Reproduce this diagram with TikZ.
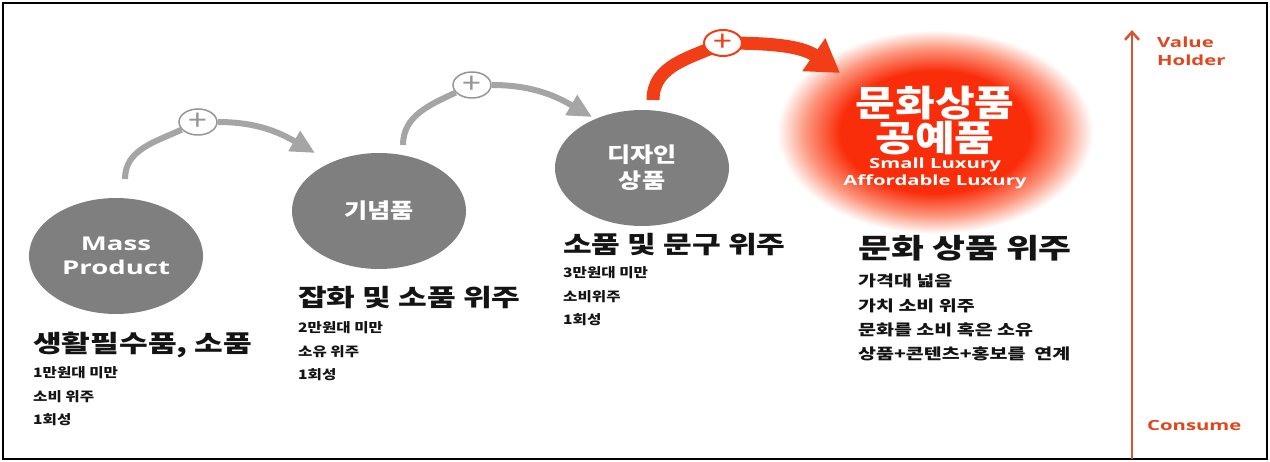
\documentclass[tikz,border=0pt]{standalone}
\usepackage{fontspec}
\setmainfont[FakeStretch=1.2]{Noto Sans CJK KR}
\newfontfamily\headfont[FakeStretch=1.3]{Noto Sans CJK KR}
\newfontfamily\latinfont[FakeStretch=1.45]{Open Sans}
\usetikzlibrary{arrows.meta,shapes.geometric}

\definecolor{stagegrey}{RGB}{127,127,127}
\definecolor{arrowgrey}{RGB}{165,165,165}
\definecolor{plusgrey}{RGB}{150,150,150}
\definecolor{growred}{RGB}{242,62,22}
\definecolor{glowred}{RGB}{250,45,10}
\definecolor{glowpink}{RGB}{252,150,125}
\definecolor{axisred}{RGB}{214,84,48}
\definecolor{labelred}{RGB}{224,70,28}
\definecolor{textdark}{RGB}{20,20,20}

\pgfdeclareradialshading{culturglow}{\pgfpoint{0bp}{0bp}}{color(0bp)=(glowred); color(15bp)=(glowred); color(20.5bp)=(glowpink); color(25bp)=(white); color(50bp)=(white)}

\tikzset{
  stage/.style={ellipse,fill=stagegrey,minimum width=174pt,minimum height=116pt,inner sep=0pt,text=white,align=center},
  plusmark/.style={ellipse,draw=#1,fill=white,line width=1.5pt,minimum width=38pt,minimum height=26pt,inner sep=0pt,text=#1,font=\fontsize{28}{28}\selectfont},
  growline/.style={line width=6pt,draw=arrowgrey},
  growarrow/.style={growline,-{Triangle[length=24pt,width=22pt]}},
  redline/.style={line width=13pt,draw=growred},
  redarrow/.style={redline,-{Triangle[length=32pt,width=38pt]}},
  heading/.style={anchor=west,inner sep=0pt,text=textdark,font=\headfont\bfseries\fontsize{24}{24}\selectfont},
  detail/.style={anchor=west,inner sep=0pt,text=textdark,font=\bfseries\fontsize{13}{13}\selectfont},
  widedetail/.style={detail,font=\headfont\bfseries\fontsize{15}{15}\selectfont},
  axislabel/.style={anchor=west,inner sep=0pt,align=left,text=labelred,font=\latinfont\bfseries\fontsize{14}{18}\selectfont}
}

\begin{document}
\begin{tikzpicture}[x=1pt,y=1pt]
\useasboundingbox (0,0) rectangle (1270,461);
\draw[line width=1.2pt] (3,2) rectangle (1267,458);

% stages
\node[stage,font=\latinfont\bfseries\fontsize{19}{24}\selectfont] (mass) at (116,205) {Mass\\Product};
\node[stage,font=\bfseries\fontsize{21}{21}\selectfont] (souvenir) at (379,250) {기념품};
\node[stage,font=\bfseries\fontsize{21}{26}\selectfont] (design) at (642,293) {디자인\\상품};
\node[ellipse,shade,shading=culturglow,minimum width=316pt,minimum height=204pt] (culture) at (935,329) {};
\node[text=white,font=\bfseries\fontsize{36}{36}\selectfont] (c1) at (935,358) {문화상품};
\node[text=white,font=\bfseries\fontsize{36}{36}\selectfont] (c2) at (935,323) {공예품};
\node[text=white,font=\latinfont\bfseries\fontsize{14}{14}\selectfont] (c3) at (935,296) {Small Luxury};
\node[text=white,font=\latinfont\bfseries\fontsize{14}{14}\selectfont] (c4) at (935,279) {Affordable Luxury};

% growth arrows
\coordinate (s1) at (125,282);
\coordinate (t1) at (315,308);
\node[plusmark=plusgrey] (p1) at (198,339) {+};
\draw[growline] (s1) to[out=90,in=205] (p1);
\draw[growarrow] (p1) to[out=0,in=150] (t1);

\coordinate (s2) at (403,316);
\coordinate (t2) at (592,344);
\node[plusmark=plusgrey] (p2) at (472,376) {+};
\draw[growline] (s2) to[out=90,in=205] (p2);
\draw[growarrow] (p2) to[out=0,in=150] (t2);

\coordinate (s3) at (653,361);
\coordinate (t3) at (840,388);
\draw[redline] (s3) to[out=90,in=205] (723,418);
\draw[redarrow] (723,418) to[out=0,in=145] (t3);
\node[plusmark=growred,line width=2pt] (p3) at (723,418) {+};

% descriptions
\node[heading] (h1) at (33,116) {생활필수품, 소품};
\node[detail] at (33,88) {1만원대 미만};
\node[detail] at (33,64) {소비 위주};
\node[detail] at (33,41) {1회성};

\node[heading] (h2) at (298,163) {잡화 및 소품 위주};
\node[detail] at (298,133) {2만원대 미만};
\node[detail] at (298,109) {소유 위주};
\node[detail] at (298,86) {1회성};

\node[heading] (h3) at (563,216) {소품 및 문구 위주};
\node[detail] at (563,188) {3만원대 미만};
\node[detail] at (563,164) {소비위주};
\node[detail] at (563,141) {1회성};

\node[heading,font=\headfont\bfseries\fontsize{27.5}{27.5}\selectfont] (h4) at (858,213) {문화 상품 위주};
\node[widedetail] at (858,180) {가격대 넓음};
\node[widedetail] at (858,155) {가치 소비 위주};
\node[widedetail] at (858,131) {문화를 소비 혹은 소유};
\node[widedetail] at (858,107) {상품+콘텐츠+홍보를\ \ 연계};

% value axis
\coordinate (axbot) at (1132,2);
\coordinate (axtop) at (1132,431);
\draw[axisred,line width=2.5pt,-{Straight Barb[length=8pt,width=14pt]}] (axbot) -- (axtop);
\node[axislabel] (holder) at (1157,410) {Value\\Holder};
\node[axislabel] (consume) at (1147,36) {Consume};
\end{tikzpicture}
\end{document}
